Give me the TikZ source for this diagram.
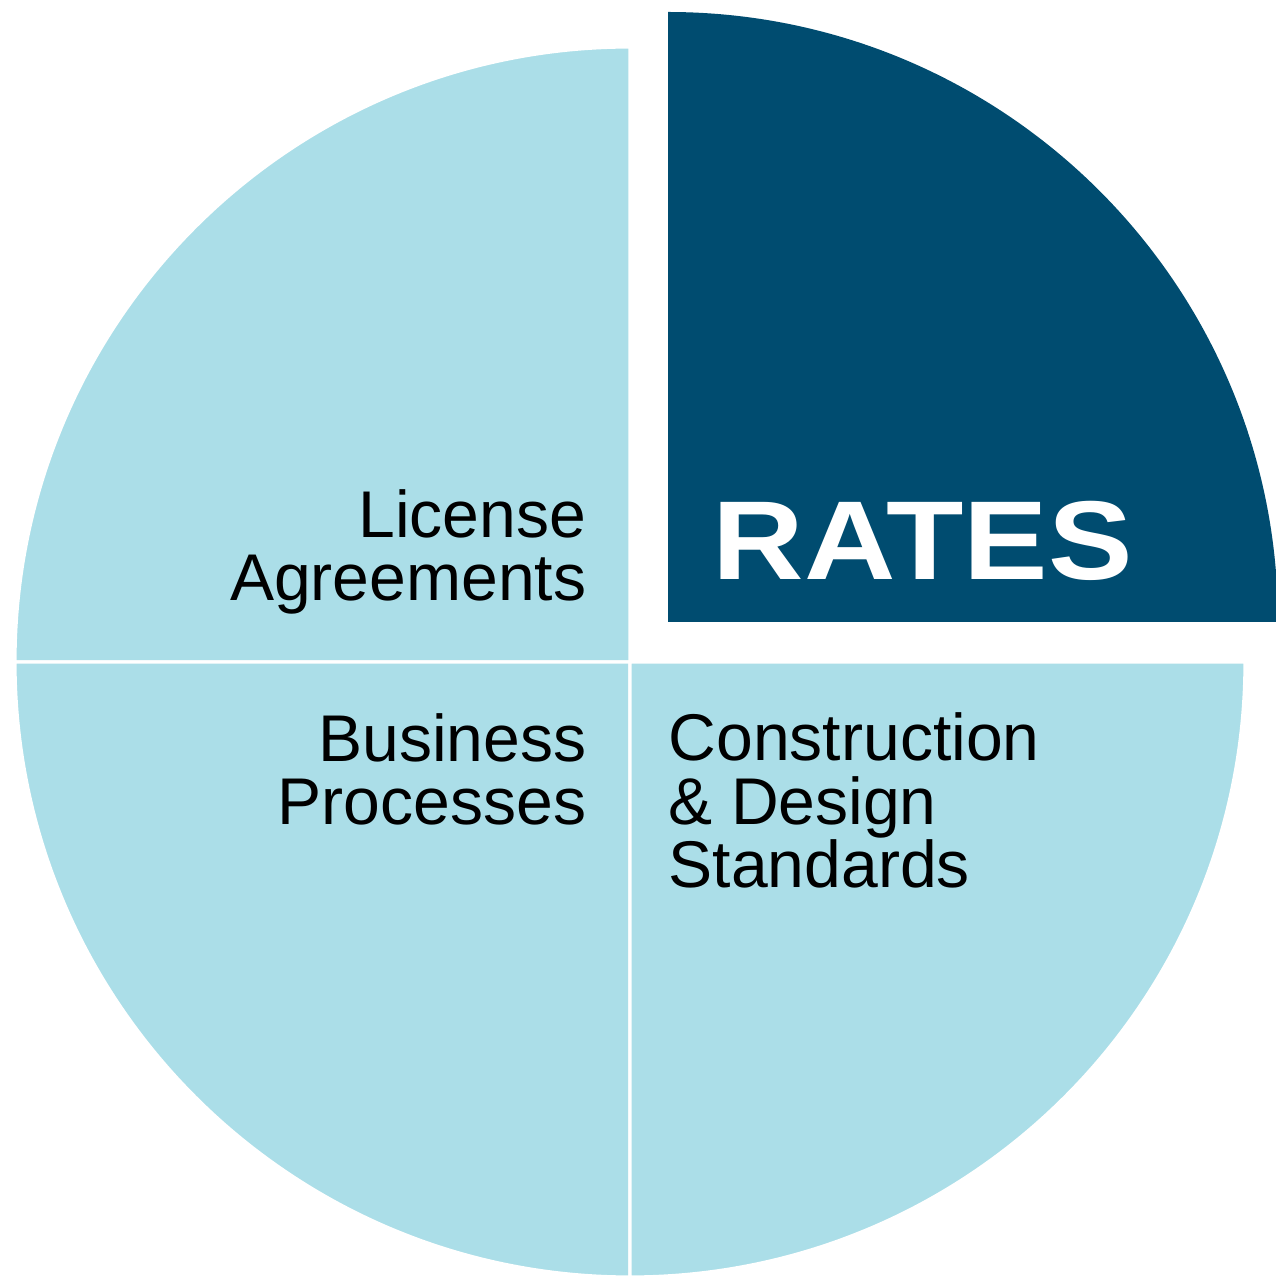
\documentclass[tikz,border=0pt]{standalone}
\usepackage{fontspec}
\setmainfont{Liberation Sans}
\newfontfamily\ratesfont{Liberation Sans}[FakeStretch=1.13]
\usetikzlibrary{calc}
\definecolor{pielight}{RGB}{171,222,232}
\definecolor{piedark}{RGB}{0,76,112}
\tikzset{
    sector/.style = {fill = pielight, draw = white, line width = 0.9pt},
    sectortext/.style = {inner sep = 0, text = black, font = \fontsize{18.8}{18.1}\selectfont}
}

\begin{document}
\begin{tikzpicture}
            \useasboundingbox (0, 0) rectangle (12.76, 12.78);
            \clip (0, 0) rectangle (12.76, 12.78);
            \coordinate (centre) at (6.30, 6.16);
            \coordinate (corner) at (6.68, 6.56);
            \foreach \a in {90, 180, 270} {
                \filldraw[sector] (centre) -- ++(\a:6.15) arc [start angle = \a, end angle = \a + 90, radius = 6.15] -- cycle;
            }
            \fill[piedark] (corner) -- ++(0, 6.10) arc [start angle = 90, end angle = 0, radius = 6.10] -- cycle;
            % base anchor sits on the last line
            \node[sectortext, anchor = base east, align = right] (license) at (5.87, 6.77) {License\\Agreements};
            \node[sectortext, anchor = base east, align = right] (business) at (5.87, 4.53) {Business\\Processes};
            \node[sectortext, anchor = base west, align = left] (construction) at (6.68, 3.90) {Construction\\\& Design\\Standards};
            \node[inner sep = 0, anchor = base west, text = white, font = \ratesfont\bfseries\fontsize{31.9}{32}\selectfont] (rates) at (7.12, 6.98) {RATES};
        \end{tikzpicture}
\end{document}
